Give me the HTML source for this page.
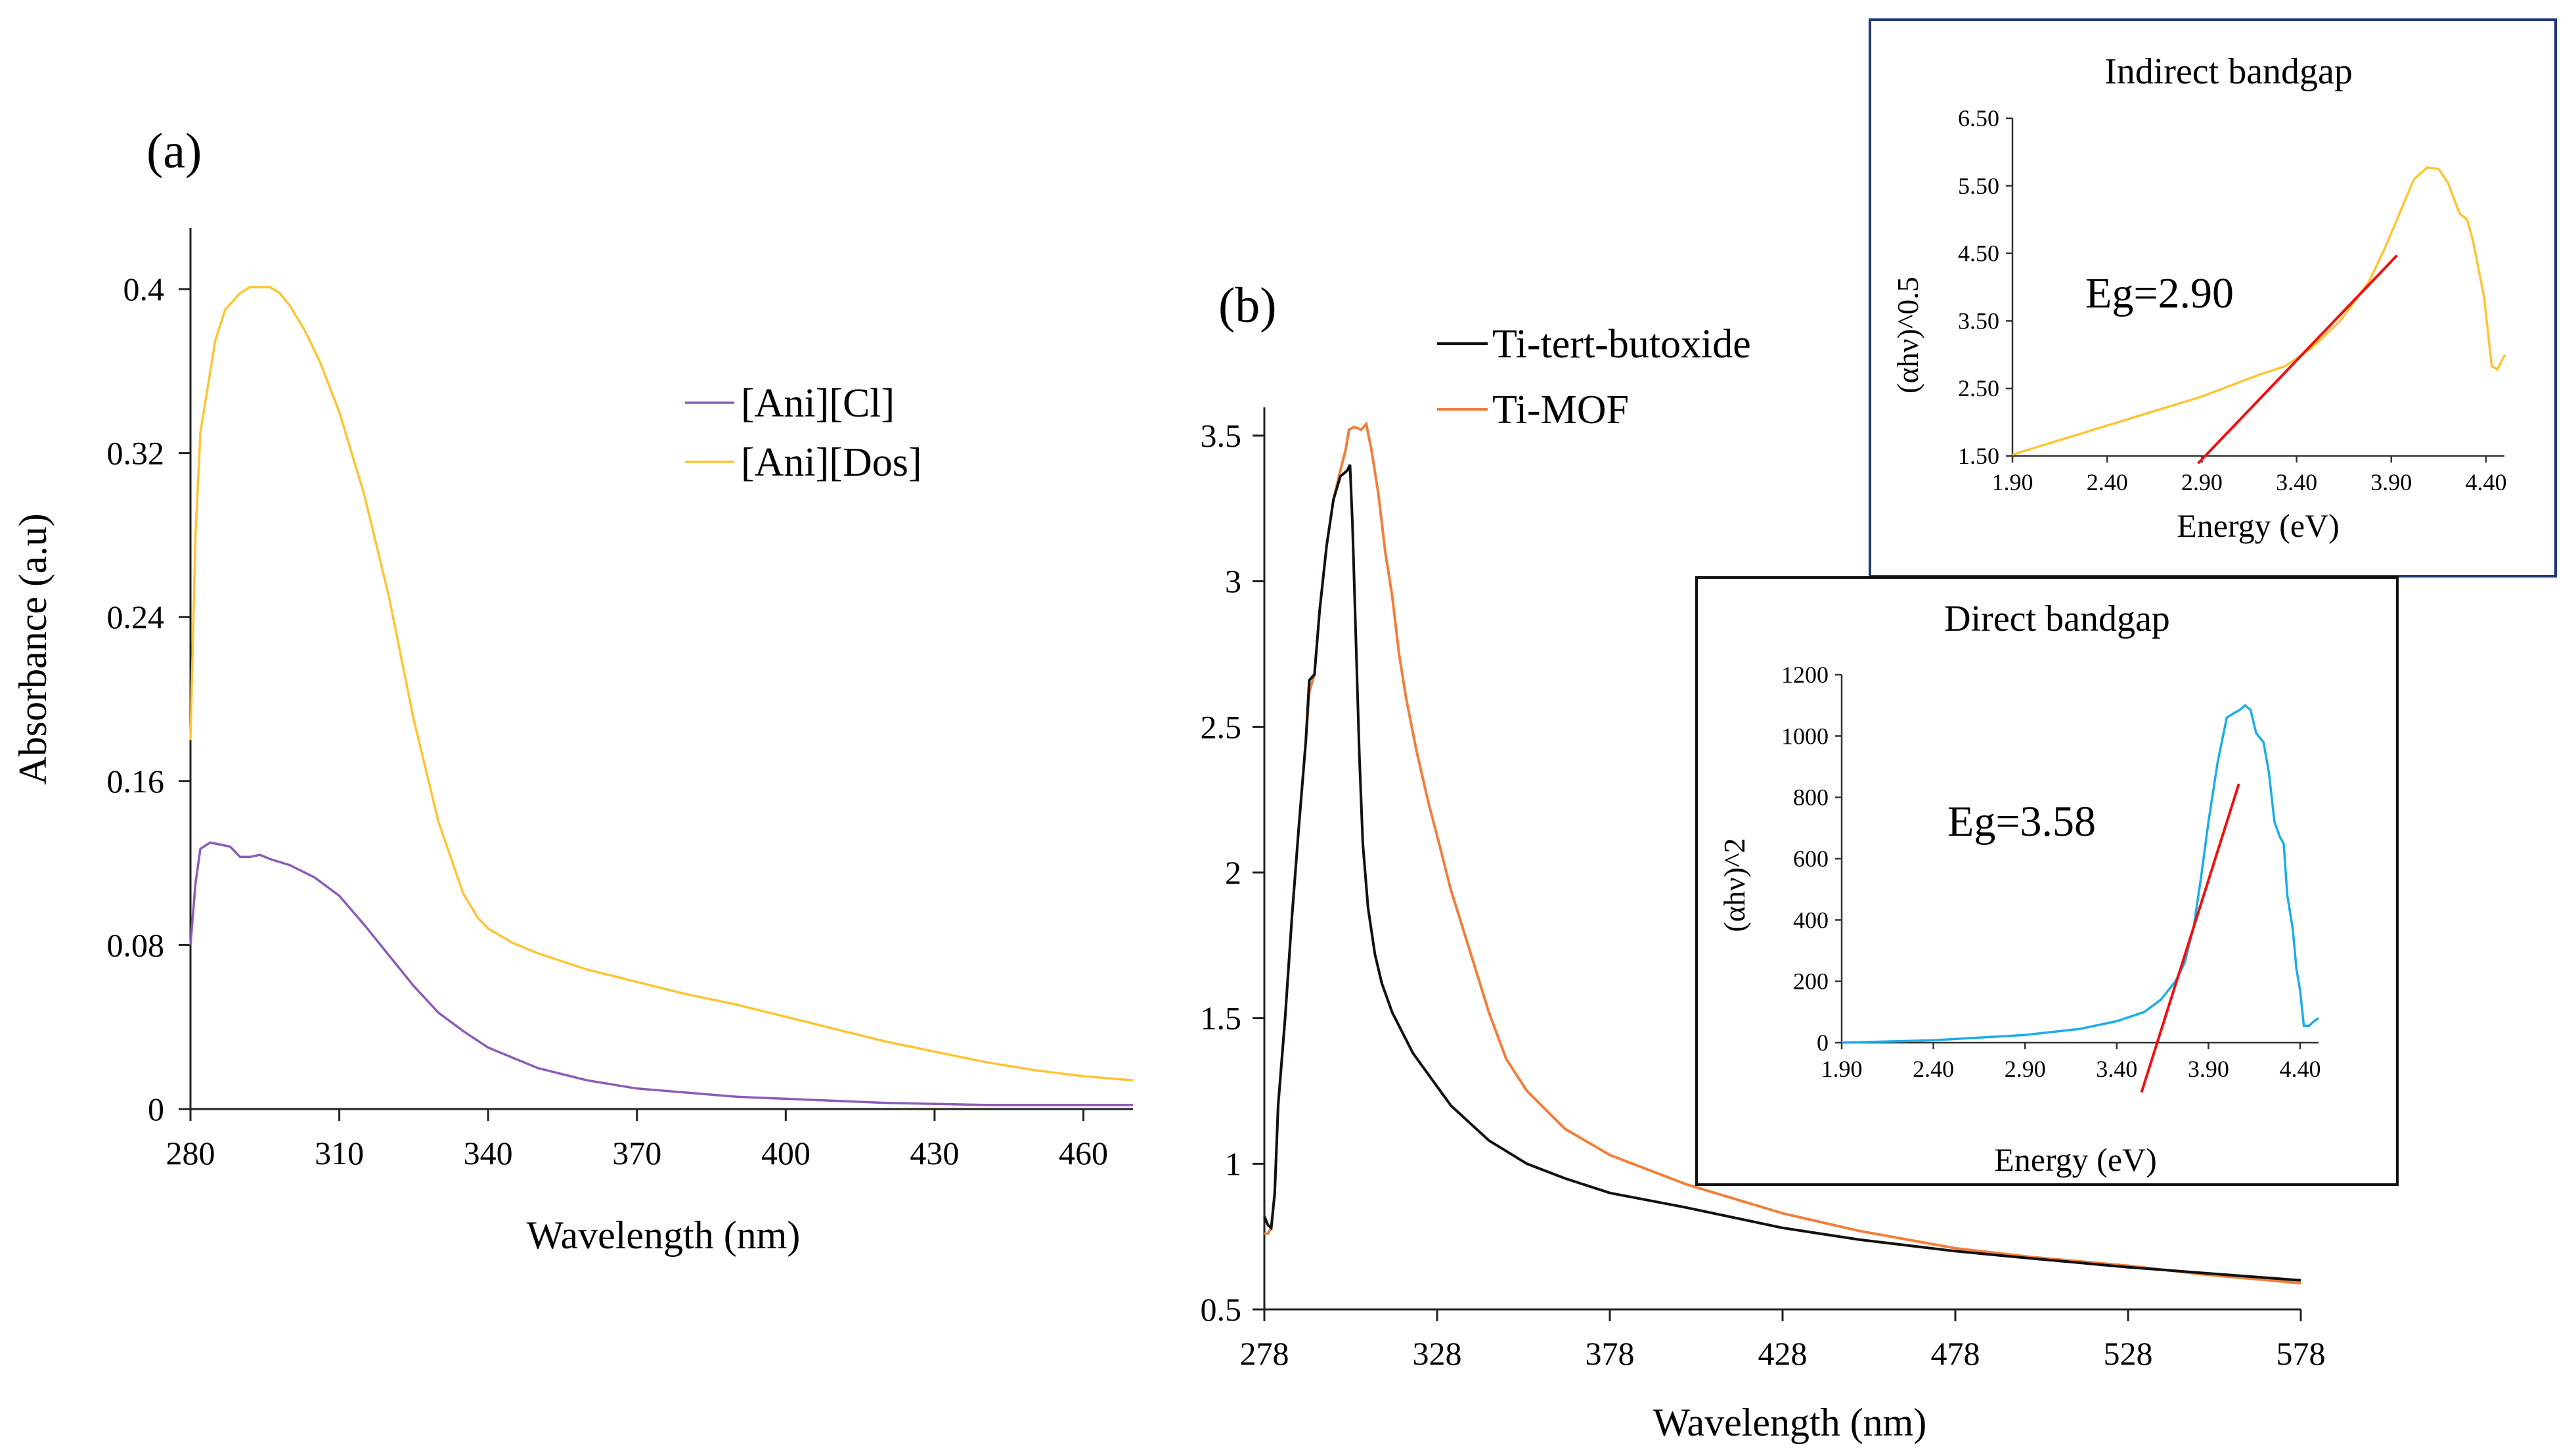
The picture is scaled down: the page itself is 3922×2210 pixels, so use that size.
<!DOCTYPE html>
<html><head><meta charset="utf-8">
<style>
html,body{margin:0;padding:0;background:#fff;}
svg{display:block;font-family:"Liberation Serif",serif;}
</style></head>
<body>
<svg id="fig" width="3922" height="2210" viewBox="0 0 3922 2210" xmlns="http://www.w3.org/2000/svg">
<rect width="3922" height="2210" fill="#fff"/>
<g id="pa"></g>
<g id="pb"></g>
<g id="pi"></g>
<g id="pd"></g>
</svg>
<script>
// Panel (a)
const aTicksX=[280,310,340,370,400,430,460];
const aTicksY=[0,0.08,0.16,0.24,0.32,0.4];
const aTickYLabels=["0","0.08","0.16","0.24","0.32","0.4"];
const clX=[280,281,282,284,286,288,290,292,294,296,300,305,310,315,320,325,330,335,340,345,350,355,360,370,380,390,400,420,440,470];
const clY=[0.08,0.11,0.127,0.13,0.129,0.128,0.123,0.123,0.124,0.122,0.119,0.113,0.104,0.09,0.075,0.06,0.047,0.038,0.03,0.025,0.02,0.017,0.014,0.01,0.008,0.006,0.005,0.003,0.002,0.002];
const dosX=[280,281,282,283,285,287,290,292,296,298,300,303,306,310,315,320,325,330,335,338,340,345,350,360,370,380,390,400,410,420,430,440,450,460,470];
const dosY=[0.18,0.28,0.33,0.345,0.375,0.39,0.398,0.401,0.401,0.398,0.392,0.38,0.365,0.34,0.3,0.25,0.19,0.14,0.105,0.093,0.088,0.081,0.076,0.068,0.062,0.056,0.051,0.045,0.039,0.033,0.028,0.023,0.019,0.016,0.014];
// Panel (b)
const bTicksX=[278,328,378,428,478,528,578];
const bTicksY=[0.5,1,1.5,2,2.5,3,3.5];
const bTickYLabels=["0.5","1","1.5","2","2.5","3","3.5"];
const tbX=[278,279,280,281,282,284,286,288,290,291,292.5,294,296,298,300,302,302.8,303.5,304.5,305.5,306.5,308,310,312,315,321,332,343,354,365,378,400,428,450,478,500,528,550,578];
const tbY=[0.82,0.79,0.78,0.9,1.2,1.5,1.85,2.16,2.45,2.66,2.68,2.9,3.12,3.28,3.36,3.38,3.4,3.2,2.8,2.4,2.1,1.88,1.72,1.62,1.52,1.38,1.2,1.08,1.0,0.95,0.9,0.85,0.78,0.74,0.7,0.675,0.645,0.625,0.6];
const mofX=[278,279,280,281,282,284,286,288,290,291,292.5,294,296,298,300,301.5,302.5,304,306,307.5,309,311,313,315,317,319,322,325.5,329,332,337,343,348,354,365,378,400,428,450,478,500,528,550,578];
const mofY=[0.76,0.76,0.78,0.9,1.2,1.5,1.85,2.16,2.45,2.62,2.68,2.9,3.12,3.28,3.38,3.45,3.52,3.53,3.52,3.54,3.45,3.3,3.1,2.95,2.75,2.6,2.42,2.24,2.08,1.94,1.75,1.52,1.36,1.25,1.12,1.03,0.93,0.83,0.77,0.71,0.68,0.65,0.62,0.59];
// Insets
const eTicks=[1.9,2.4,2.9,3.4,3.9,4.4];
const eTickLabels=["1.90","2.40","2.90","3.40","3.90","4.40"];
const indTicksY=[1.5,2.5,3.5,4.5,5.5,6.5];
const indTickLabels=["1.50","2.50","3.50","4.50","5.50","6.50"];
const indX=[1.9,2.4,2.9,3.2,3.34,3.48,3.63,3.78,3.87,3.96,4.02,4.09,4.15,4.2,4.26,4.3,4.33,4.39,4.43,4.46,4.5];
const indY=[1.52,1.95,2.38,2.7,2.83,3.1,3.5,4.07,4.6,5.2,5.6,5.77,5.75,5.54,5.09,5.0,4.7,3.85,2.83,2.78,3.0];
const indFitX=[2.88,3.93];
const indFitY=[1.39,4.47];
const dirTicksY=[0,200,400,600,800,1000,1200];
const dirX=[1.9,2.4,2.9,3.2,3.4,3.55,3.64,3.72,3.77,3.82,3.86,3.9,3.95,4.0,4.04,4.07,4.1,4.13,4.16,4.2,4.23,4.26,4.29,4.31,4.33,4.36,4.38,4.4,4.42,4.45,4.47,4.5];
const dirY=[0,8,25,45,70,100,140,200,260,380,540,720,915,1060,1075,1085,1100,1085,1010,980,880,720,670,650,480,370,240,170,55,55,67,80];
const dirFitX=[3.535,4.066];
const dirFitY=[-162,844];

const NS="http://www.w3.org/2000/svg";
function mk(parent,tag,attrs,text){const e=document.createElementNS(NS,tag);for(const k in attrs)e.setAttribute(k,attrs[k]);if(text!==undefined)e.textContent=text;parent.appendChild(e);return e;}
function lin(d0,d1,r0,r1){return v=>r0+(v-d0)*(r1-r0)/(d1-d0);}
function path(xs,ys,sx,sy){return xs.map((x,i)=>(i?"L":"M")+sx(x).toFixed(1)+","+sy(ys[i]).toFixed(1)).join("");}

// ---------- Panel a ----------
(function(){
const g=document.getElementById('pa');
const sx=lin(280,470,290,1725), sy=lin(0,0.4,1688,440);
let t=mk(g,'text',{x:223,y:255,'font-size':76},'(a)');

let l=mk(g,'line',{x1:290,y1:347,x2:290,y2:1688,stroke:'#222','stroke-width':3});

l=mk(g,'line',{x1:290,y1:1688,x2:1725,y2:1688,stroke:'#222','stroke-width':3});

aTicksY.forEach((v,i)=>{
 const y=sy(v);
 mk(g,'line',{x1:272,y1:y,x2:290,y2:y,stroke:'#222','stroke-width':3});
 const tx=mk(g,'text',{x:250,y:y+17,'font-size':50,'text-anchor':'end'},aTickYLabels[i]);
 
});
aTicksX.forEach(v=>{
 const x=sx(v);
 mk(g,'line',{x1:x,y1:1688,x2:x,y2:1706,stroke:'#222','stroke-width':3});
 const tx=mk(g,'text',{x:x,y:1772,'font-size':50,'text-anchor':'middle'},String(v));
 
});
t=mk(g,'text',{x:1010,y:1900,'font-size':60,'text-anchor':'middle'},'Wavelength (nm)');

t=mk(g,'text',{x:0,y:0,'font-size':60,'text-anchor':'middle',transform:'translate(70,988) rotate(-90)'},'Absorbance (a.u)');

let p=mk(g,'path',{d:path(dosX,dosY,sx,sy),fill:'none',stroke:'#FFC433','stroke-width':3.5});

p=mk(g,'path',{d:path(clX,clY,sx,sy),fill:'none',stroke:'#8B5CB8','stroke-width':3.5});

const lg=mk(g,'g',{});

mk(lg,'line',{x1:1043,y1:613,x2:1118,y2:613,stroke:'#8B5CB8','stroke-width':3.5});
t=mk(lg,'text',{x:1128,y:634,'font-size':62},'[Ani][Cl]');

mk(lg,'line',{x1:1043,y1:703,x2:1118,y2:703,stroke:'#FFC433','stroke-width':3.5});
t=mk(lg,'text',{x:1128,y:724,'font-size':62},'[Ani][Dos]');

})();

// ---------- Panel b ----------
(function(){
const g=document.getElementById('pb');
const sx=lin(278,578,1925,3503), sy=lin(0.5,3.5,1993,663);
let t=mk(g,'text',{x:1855,y:490,'font-size':76},'(b)');

let l=mk(g,'line',{x1:1925,y1:620,x2:1925,y2:1993,stroke:'#222','stroke-width':3});

l=mk(g,'line',{x1:1925,y1:1993,x2:3503,y2:1993,stroke:'#222','stroke-width':3});

bTicksY.forEach((v,i)=>{
 const y=sy(v);
 mk(g,'line',{x1:1907,y1:y,x2:1925,y2:y,stroke:'#222','stroke-width':3});
 const tx=mk(g,'text',{x:1890,y:y+17,'font-size':50,'text-anchor':'end'},bTickYLabels[i]);
 
});
bTicksX.forEach(v=>{
 const x=sx(v);
 mk(g,'line',{x1:x,y1:1993,x2:x,y2:2011,stroke:'#222','stroke-width':3});
 const tx=mk(g,'text',{x:x,y:2077,'font-size':50,'text-anchor':'middle'},String(v));
 
});
t=mk(g,'text',{x:2725,y:2185,'font-size':60,'text-anchor':'middle'},'Wavelength (nm)');

let p=mk(g,'path',{d:path(mofX,mofY,sx,sy),fill:'none',stroke:'#F07F3C','stroke-width':4});

p=mk(g,'path',{d:path(tbX,tbY,sx,sy),fill:'none',stroke:'#111','stroke-width':4});

const lg=mk(g,'g',{});

mk(lg,'line',{x1:2188,y1:523,x2:2265,y2:523,stroke:'#111','stroke-width':4});
t=mk(lg,'text',{x:2272,y:544,'font-size':62},'Ti-tert-butoxide');

mk(lg,'line',{x1:2188,y1:623,x2:2265,y2:623,stroke:'#F07F3C','stroke-width':4});
t=mk(lg,'text',{x:2272,y:644,'font-size':62},'Ti-MOF');

})();

// ---------- Inset builder ----------
function inset(g,o){
 let r=mk(g,'rect',{x:o.bx,y:o.by,width:o.bw,height:o.bh,fill:'#fff',stroke:o.border,'stroke-width':4});
 
 const sx=lin(1.9,4.4,o.x0,o.x1), sy=lin(o.ymin,o.ymax,o.yb,o.yt);
 let t=mk(g,'text',{x:o.tx,y:o.ty,'font-size':56,'text-anchor':'middle'},o.title);
 
 let l=mk(g,'line',{x1:o.x0,y1:o.yt,x2:o.x0,y2:o.yb,stroke:'#333','stroke-width':2.5});
 
 l=mk(g,'line',{x1:o.x0,y1:o.yb,x2:o.xend,y2:o.yb,stroke:'#333','stroke-width':2.5});
 
 o.yticks.forEach((v,i)=>{
  const y=sy(v);
  mk(g,'line',{x1:o.x0-10,y1:y,x2:o.x0,y2:y,stroke:'#333','stroke-width':2.5});
  const tx=mk(g,'text',{x:o.x0-20,y:y+12,'font-size':36,'text-anchor':'end'},o.ylabels[i]);
  
 });
 eTicks.forEach((v,i)=>{
  const x=sx(v);
  mk(g,'line',{x1:x,y1:o.yb,x2:x,y2:o.yb+10,stroke:'#333','stroke-width':2.5});
  const tx=mk(g,'text',{x:x,y:o.yb+52,'font-size':36,'text-anchor':'middle'},eTickLabels[i]);
  
 });
 t=mk(g,'text',{x:o.xtx,y:o.xty,'font-size':50,'text-anchor':'middle'},'Energy (eV)');
 
 t=mk(g,'text',{x:0,y:0,'font-size':46,'text-anchor':'middle',transform:'translate('+o.ytx+','+o.yty+') rotate(-90)'},o.ytitle);
 
 t=mk(g,'text',{x:o.egx,y:o.egy,'font-size':66},o.eg);
 
 let p=mk(g,'path',{d:path(o.dx,o.dy,sx,sy),fill:'none',stroke:o.color,'stroke-width':3.5});
 
 p=mk(g,'path',{d:path(o.fx,o.fy,sx,sy),fill:'none',stroke:'#F01010','stroke-width':4});
 
}
inset(document.getElementById('pi'),{bx:2847,by:30,bw:1044,bh:847,border:'#1F3A7A',
 title:'Indirect bandgap',tx:3393,ty:127,x0:3064,x1:3785,xend:3813,yt:180,yb:694,ymin:1.5,ymax:6.5,
 yticks:indTicksY,ylabels:indTickLabels,xtx:3438,xty:817,ytx:2920,yty:510,ytitle:'(αhν)^0.5',
 egx:3175,egy:468,eg:'Eg=2.90',dx:indX,dy:indY,color:'#FFC433',fx:indFitX,fy:indFitY});
inset(document.getElementById('pd'),{bx:2583,by:879,bw:1067,bh:924,border:'#111',
 title:'Direct bandgap',tx:3132,ty:960,x0:2804,x1:3502,xend:3530,yt:1027,yb:1587,ymin:0,ymax:1200,
 yticks:dirTicksY,ylabels:dirTicksY.map(String),xtx:3160,xty:1782,ytx:2656,yty:1347,ytitle:'(αhν)^2',
 egx:2965,egy:1272,eg:'Eg=3.58',dx:dirX,dy:dirY,color:'#1AADE8',fx:dirFitX,fy:dirFitY});
</script>
</body></html>
